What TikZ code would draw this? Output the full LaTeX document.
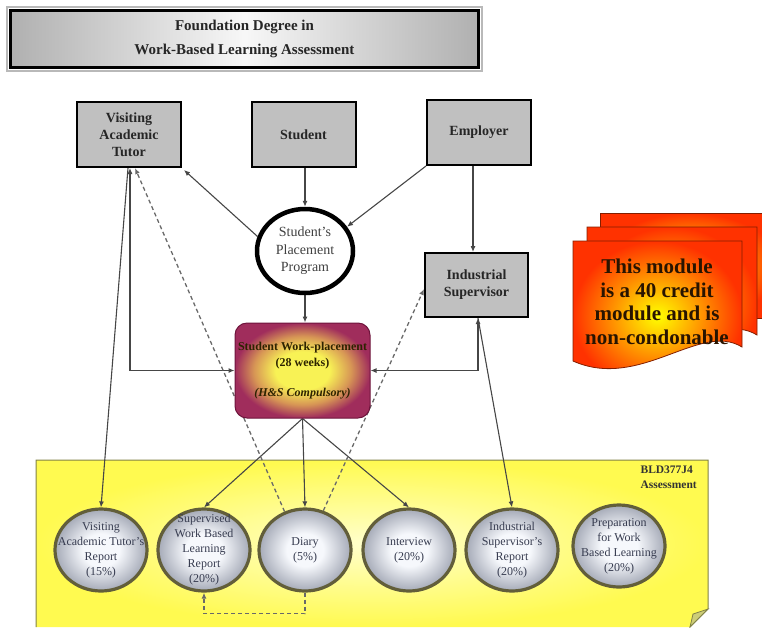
\documentclass[tikz,border=0pt]{standalone}
\usepackage{fontspec}
\setmainfont{Liberation Serif}
\usetikzlibrary{arrows.meta,shapes.geometric,calc}
\definecolor{boxgray}{RGB}{192,192,192}
\definecolor{linegray}{RGB}{70,70,70}
\definecolor{dashgray}{RGB}{105,105,105}
\definecolor{elborder}{RGB}{98,94,58}
\definecolor{elin}{RGB}{246,248,252}
\definecolor{elout}{RGB}{165,170,183}
\definecolor{eltext}{RGB}{55,60,80}
\definecolor{wpin}{RGB}{248,242,85}
\definecolor{wpmid}{RGB}{215,150,85}
\definecolor{wpout}{RGB}{160,45,92}
\definecolor{wpborder}{RGB}{110,20,60}
\definecolor{wptext}{RGB}{45,35,0}
\definecolor{ylin}{RGB}{255,255,205}
\definecolor{ylout}{RGB}{255,250,80}
\definecolor{ylborder}{RGB}{130,130,70}
\definecolor{flap}{RGB}{205,205,120}
\definecolor{notein}{RGB}{255,255,0}
\definecolor{noteout}{RGB}{255,50,0}
\definecolor{noteborder}{RGB}{130,30,0}
\definecolor{notetext}{RGB}{40,20,0}
\pgfdeclareradialshading{wpshade}{\pgfpoint{0bp}{0bp}}{color(0bp)=(wpin); color(10bp)=(wpin); color(18bp)=(wpmid); color(25bp)=(wpout); color(50bp)=(wpout)}
\pgfdeclareradialshading{elshade}{\pgfpoint{0bp}{0bp}}{color(0bp)=(elin); color(10bp)=(elin); color(25bp)=(elout); color(50bp)=(elout)}
\pgfdeclarelayer{bg}
\pgfdeclarelayer{lines}
\pgfsetlayers{bg,lines,main}
\begin{document}
\begin{tikzpicture}[x=1pt,y=-1pt,
  graybox/.style={draw=black,line width=2pt,fill=boxgray,minimum width=104pt,minimum height=65pt,inner sep=0pt,align=center,font=\fontsize{14}{17}\selectfont\bfseries,text=black!85},
  ass/.style={ellipse,draw=elborder,line width=3.2pt,shade,shading=elshade,minimum width=92pt,minimum height=82pt,inner sep=0pt},
  asstext/.style={align=center,font=\fontsize{12}{15}\selectfont,text=eltext,inner sep=0pt},
  arr/.style={draw=linegray,line width=1.1pt,-{Latex[length=6pt,width=5pt]}},
  arrtwo/.style={draw=linegray,line width=1.1pt,{Latex[length=6pt,width=5pt]}-{Latex[length=6pt,width=5pt]}},
  darr/.style={draw=dashgray,line width=1.3pt,dash pattern=on 4pt off 3pt,-{Latex[length=6pt,width=5pt]}},
]
\useasboundingbox (0,0) rectangle (762,627);

% title
\draw[gray!55,line width=1.5pt] (7,7) rectangle (482,71);
\node[draw=black,line width=3pt,left color=gray!62,right color=gray!62,middle color=gray!6,
  minimum width=468pt,minimum height=57pt,inner sep=0pt,align=center,
  font=\fontsize{15}{24}\selectfont\bfseries,text=black!85] (title) at (244.5,39)
  {Foundation Degree in\\Work-Based Learning Assessment};

% yellow assessment area
\begin{pgfonlayer}{bg}
\shade[inner color=ylin,outer color=ylout] (36,460) -- (708,460) -- (708,609) -- (690,627) -- (36,627) -- cycle;
\draw[ylborder,line width=1pt] (36,627) -- (36,460) -- (708,460) -- (708,609) -- (690,627);
\filldraw[fill=flap,draw=ylborder,line width=0.8pt] (708,609) -- (693,614) -- (690,627) -- cycle;
\end{pgfonlayer}
\node[anchor=north east,align=left,font=\fontsize{11.5}{15}\selectfont\bfseries,text=black!80,inner sep=0pt] (bld) at (697,466) {BLD377J4\\Assessment};

% top boxes
\node[graybox] (tutor) at (129,134.5) {Visiting\\Academic\\Tutor};
\node[graybox] (student) at (303.5,134.5) {Student};
\node[graybox] (employer) at (479,132.5) {Employer};
\node[graybox,minimum height=64pt,minimum width=103pt] (indsup) at (476.5,285) {Industrial\\Supervisor};

% placement program circle
\node[ellipse,draw=black,line width=4.5pt,fill=white,minimum width=96pt,minimum height=84pt,inner sep=0pt,
  align=center,font=\fontsize{14}{17.5}\selectfont,text=black!75] (circ) at (305,251) {Student's\\Placement\\Program};

% work placement
\node[rectangle,rounded corners=12pt,draw=wpborder,line width=1pt,shade,shading=wpshade,
  minimum width=135pt,minimum height=95pt,inner sep=0pt,align=center,
  font=\fontsize{12}{16}\selectfont\bfseries,text=wptext] (wp) at (302.5,370.5)
  {Student Work-placement\\(28 weeks)\\[14pt]\textit{(H\&S Compulsory)}};

% assessment ellipses
\node[ass] (r1) at (101,550) {};
\node[asstext] (r1t) at (r1.center) {Visiting\\Academic Tutor's\\Report\\(15\%)};
\node[ass] (r2) at (204,550) {};
\node[asstext] (r2t) at (r2.center) {Supervised\\Work Based\\Learning\\Report\\(20\%)};
\node[ass] (r3) at (305,550) {};
\node[asstext] (r3t) at (r3.center) {Diary\\(5\%)};
\node[ass] (r4) at (409,550) {};
\node[asstext] (r4t) at (r4.center) {Interview\\(20\%)};
\node[ass] (r5) at (512,550) {};
\node[asstext] (r5t) at (r5.center) {Industrial\\Supervisor's\\Report\\(20\%)};
\node[ass] (r6) at (619,546) {};
\node[asstext] (r6t) at (r6.center) {Preparation\\for Work\\Based Learning\\(20\%)};

% connectors
\begin{pgfonlayer}{lines}
\draw[arr] (student.south -| circ.north) -- (circ.north);
\draw[arr] (circ.163) -- ([xshift=2pt,yshift=-2pt]tutor.south east);
\draw[arr] (employer.south west) -- (circ.30);
\draw[arr] ([xshift=-6pt]employer.south) -- ([xshift=-3.5pt]indsup.north);
\draw[arr] (circ.south) -- (circ.south |- wp.north);
\draw[arrtwo] ([xshift=1pt]tutor.south) |- (wp.west);
\draw[arrtwo] ([xshift=1.5pt]indsup.south) |- (wp.east);
\draw[arr] ([xshift=-1pt]tutor.south) -- (r1.north);
\draw[arr] ([xshift=1.5pt]indsup.south) -- (r5.north);
\draw[arr] (wp.south) -- (r2.north);
\draw[arr] (wp.south) -- (r3.north);
\draw[arr] (wp.south) -- (r4.north);
\draw[darr] (r3.118) -- ([xshift=6pt]tutor.south);
\draw[darr] (r3.65) -- ([yshift=-4pt]indsup.west);
\draw[darr] (r3.south) -- ++(0,21) -| (r2.south);
\end{pgfonlayer}

% stacked note
\shadedraw[inner color=notein,outer color=noteout,draw=noteborder,line width=0.8pt]
  (600,213) -- (780,213) -- (780,318) -- (600,318) -- cycle;
\shadedraw[inner color=notein,outer color=noteout,draw=noteborder,line width=0.8pt]
  (587,227) -- (757,227) -- (757,335) .. controls (715,309) and (655,379) .. (587,349) -- cycle;
\shadedraw[inner color=notein,outer color=noteout,draw=noteborder,line width=0.8pt]
  (573,241) -- (742,241) -- (742,347) .. controls (700,321) and (640,391) .. (573,361) -- cycle;
\node[align=center,font=\fontsize{21}{23.5}\selectfont\bfseries,text=notetext,inner sep=0pt] (note) at (657,302)
  {This module\\is a 40 credit\\module and is\\non-condonable};
\end{tikzpicture}
\end{document}
